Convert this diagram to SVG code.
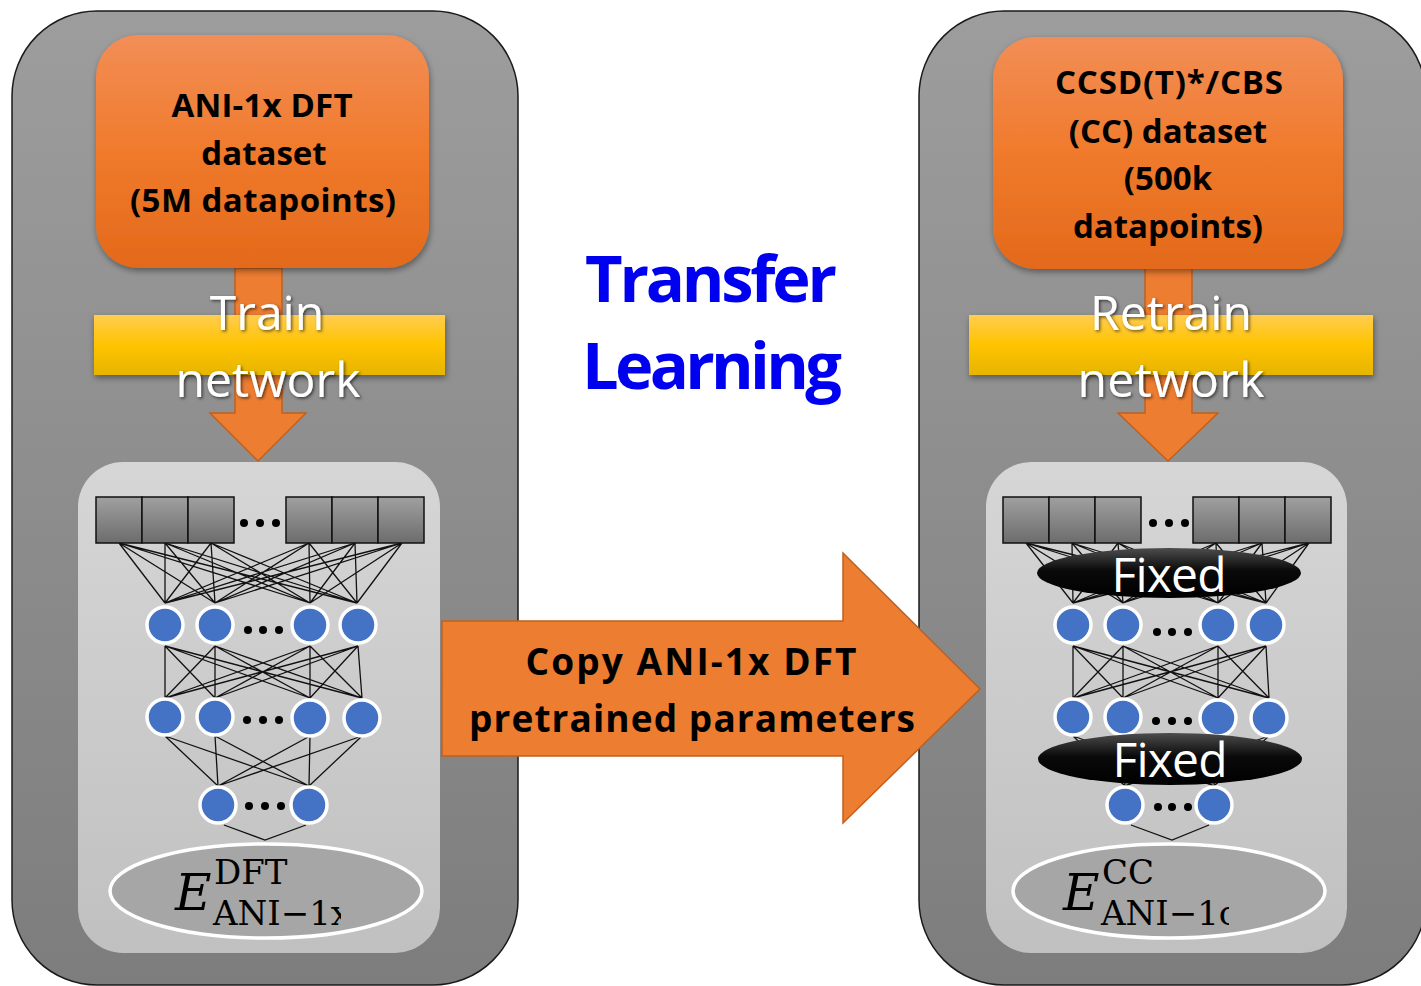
<svg xmlns="http://www.w3.org/2000/svg" width="1421" height="986" viewBox="0 0 1421 986">
<defs>
<linearGradient id="gOuter" x1="0" y1="0" x2="0" y2="1"><stop offset="0" stop-color="#9d9d9d"/><stop offset="1" stop-color="#7d7d7d"/></linearGradient>
<linearGradient id="gInner" x1="0" y1="0" x2="0" y2="1"><stop offset="0" stop-color="#d6d6d6"/><stop offset="1" stop-color="#c0c0c0"/></linearGradient>
<linearGradient id="gOrange" x1="0" y1="0" x2="0" y2="1"><stop offset="0" stop-color="#f28e56"/><stop offset="0.5" stop-color="#f07a2c"/><stop offset="1" stop-color="#e3691a"/></linearGradient>
<linearGradient id="gYellow" x1="0" y1="0" x2="0" y2="1"><stop offset="0" stop-color="#ffcd50"/><stop offset="0.5" stop-color="#ffc300"/><stop offset="1" stop-color="#e6b500"/></linearGradient>
<linearGradient id="gBox" x1="0" y1="0" x2="0" y2="1"><stop offset="0" stop-color="#a0a0a0"/><stop offset="1" stop-color="#6c6c6c"/></linearGradient>
<linearGradient id="gFixed" x1="0" y1="0" x2="0" y2="1"><stop offset="0" stop-color="#4d4d4d"/><stop offset="0.45" stop-color="#0a0a0a"/><stop offset="1" stop-color="#000"/></linearGradient>
<filter id="shadow" x="-10%" y="-10%" width="125%" height="130%"><feDropShadow dx="1" dy="3" stdDeviation="3" flood-color="#000" flood-opacity="0.4"/></filter>
<filter id="tshadow" x="-10%" y="-20%" width="130%" height="150%"><feDropShadow dx="1.5" dy="1.5" stdDeviation="1.5" flood-color="#000" flood-opacity="0.6"/></filter>
<clipPath id="clipL"><rect x="100" y="840" width="241" height="110"/></clipPath>
<clipPath id="clipR"><rect x="1000" y="840" width="229" height="110"/></clipPath>
</defs>
<style>
.outer{fill:url(#gOuter);stroke:#1a1a1a;stroke-width:1.5}
.inner{fill:url(#gInner)}
.obox{fill:url(#gOrange);filter:url(#shadow)}
.oarrow{fill:#ed7d31;stroke:#c0601e;stroke-width:1.5}
.ybar{fill:url(#gYellow);filter:url(#shadow)}
.ibox{fill:url(#gBox);stroke:#111;stroke-width:1.5}
.node{fill:#4472c4;stroke:#fff;stroke-width:3.5}
.dot{fill:#000}
.conn path{fill:none;stroke:#111;stroke-width:1.3}
.dtxt{font-family:"Open Sans","Liberation Sans",sans-serif;font-weight:bold;font-size:33px;fill:#000;text-anchor:middle}
.wtxt{font-family:"Open Sans","Liberation Sans",sans-serif;font-size:48px;fill:#fff;text-anchor:middle;filter:url(#tshadow)}
.title{font-family:"Open Sans","Liberation Sans",sans-serif;font-weight:bold;font-size:65px;fill:#0000f0;text-anchor:middle}
.atxt{font-family:"Open Sans","Liberation Sans",sans-serif;font-weight:bold;font-size:37px;fill:#000;text-anchor:middle}
.fixed{fill:url(#gFixed)}
.ftxt{font-family:"Open Sans","Liberation Sans",sans-serif;font-size:48px;fill:#fff;text-anchor:middle}
.oell{fill:#a6a6a6;stroke:#fff;stroke-width:3.5}
.math{font-family:"DejaVu Serif","Liberation Serif",serif;fill:#000}
</style>

<g id="panel-left">
<rect class="outer" x="12" y="11" width="506" height="974" rx="85"/>
<rect class="inner" x="78" y="462" width="362" height="491" rx="45"/>
</g>
<g id="panel-right">
<rect class="outer" x="919" y="11" width="507" height="974" rx="85"/>
<rect class="inner" x="986" y="462" width="361" height="491" rx="45"/>
</g>

<g id="title">
<text class="title" x="711" y="302" textLength="252">Transfer</text>
<text class="title" x="712" y="389" textLength="260">Learning</text>
</g>

<g id="copy-arrow">
<polygon class="oarrow" points="442,621 843,621 843,553 980,689 843,823 843,756 442,756"/>
<text class="atxt" x="691" y="675" textLength="331">Copy ANI-1x DFT</text>
<text class="atxt" x="692" y="732" textLength="446">pretrained parameters</text>
</g>

<g id="train-arrow-left">
<polygon class="oarrow" points="235,268 282,268 282,413 306,413 258,461 210,413 235,413"/>
</g>
<g id="train-arrow-right">
<polygon class="oarrow" points="1145,268 1192,268 1192,413 1218,413 1168,461 1118,413 1145,413"/>
</g>

<g id="dataset-left">
<rect class="obox" x="96" y="35" width="333" height="233" rx="42"/>
<text class="dtxt" x="262" y="117" textLength="181">ANI-1x DFT</text>
<text class="dtxt" x="264" y="165">dataset</text>
<text class="dtxt" x="263" y="212" textLength="266">(5M datapoints)</text>
</g>
<g id="dataset-right">
<rect class="obox" x="993" y="37" width="350" height="232" rx="42"/>
<text class="dtxt" x="1169" y="94" textLength="228">CCSD(T)*/CBS</text>
<text class="dtxt" x="1168" y="143">(CC) dataset</text>
<text class="dtxt" x="1168" y="190">(500k</text>
<text class="dtxt" x="1168" y="238">datapoints)</text>
</g>

<g id="train-left">
<rect class="ybar" x="94" y="315" width="351" height="60"/>
<text class="wtxt" x="267" y="330">Train</text>
<text class="wtxt" x="268" y="397" textLength="185">network</text>
</g>
<g id="train-right">
<rect class="ybar" x="969" y="315" width="404" height="60"/>
<text class="wtxt" x="1171" y="330" textLength="162">Retrain</text>
<text class="wtxt" x="1171" y="397" textLength="187">network</text>
</g>

<g id="connectors" class="conn">
<path d="M119 543L165 603M119 543L215 603M119 543L310 603M119 543L357 603M165 543L165 603M165 543L215 603M165 543L310 603M165 543L357 603M211 543L165 603M211 543L215 603M211 543L310 603M211 543L357 603M309 543L165 603M309 543L215 603M309 543L310 603M309 543L357 603M355 543L165 603M355 543L215 603M355 543L310 603M355 543L357 603M402 543L165 603M402 543L215 603M402 543L310 603M402 543L357 603"/>
<path d="M165 646L165 698M165 646L215 698M165 646L310 698M165 646L362 698M215 646L165 698M215 646L215 698M215 646L310 698M215 646L362 698M310 646L165 698M310 646L215 698M310 646L310 698M310 646L362 698M358 646L165 698M358 646L215 698M358 646L310 698M358 646L362 698"/>
<path d="M165 736L218 786M165 736L309 786M215 736L218 786M215 736L309 786M310 736L218 786M310 736L309 786M362 736L218 786M362 736L309 786"/>
<path d="M224 825L265 840L306 825"/>
<path d="M1026 543L1073 603M1026 543L1123 603M1026 543L1218 603M1026 543L1266 603M1072 543L1073 603M1072 543L1123 603M1072 543L1218 603M1072 543L1266 603M1118 543L1073 603M1118 543L1123 603M1118 543L1218 603M1118 543L1266 603M1216 543L1073 603M1216 543L1123 603M1216 543L1218 603M1216 543L1266 603M1262 543L1073 603M1262 543L1123 603M1262 543L1218 603M1262 543L1266 603M1309 543L1073 603M1309 543L1123 603M1309 543L1218 603M1309 543L1266 603"/>
<path d="M1073 646L1073 698M1073 646L1123 698M1073 646L1218 698M1073 646L1269 698M1123 646L1073 698M1123 646L1123 698M1123 646L1218 698M1123 646L1269 698M1218 646L1073 698M1218 646L1123 698M1218 646L1218 698M1218 646L1269 698M1266 646L1073 698M1266 646L1123 698M1266 646L1218 698M1266 646L1269 698"/>
<path d="M1073 736L1125 786M1073 736L1214 786M1123 736L1125 786M1123 736L1214 786M1218 736L1125 786M1218 736L1214 786M1269 736L1125 786M1269 736L1214 786"/>
<path d="M1131 825L1172 840L1209 825"/>
</g>

<g id="inputs-left">
<rect class="ibox" x="96" y="497" width="46" height="46"/>
<rect class="ibox" x="142" y="497" width="46" height="46"/>
<rect class="ibox" x="188" y="497" width="46" height="46"/>
<rect class="ibox" x="286" y="497" width="46" height="46"/>
<rect class="ibox" x="332" y="497" width="46" height="46"/>
<rect class="ibox" x="378" y="497" width="46" height="46"/>
<circle class="dot" cx="244" cy="523" r="4"/><circle class="dot" cx="260" cy="523" r="4"/><circle class="dot" cx="276" cy="523" r="4"/>
</g>
<g id="layer1-left">
<circle class="node" cx="165" cy="625" r="18"/><circle class="node" cx="215" cy="625" r="18"/><circle class="node" cx="310" cy="625" r="18"/><circle class="node" cx="358" cy="625" r="18"/>
<circle class="dot" cx="248" cy="630" r="4"/><circle class="dot" cx="263" cy="630" r="4"/><circle class="dot" cx="279" cy="630" r="4"/>
</g>
<g id="layer2-left">
<circle class="node" cx="165" cy="717" r="18"/><circle class="node" cx="215" cy="717" r="18"/><circle class="node" cx="310" cy="718" r="18"/><circle class="node" cx="362" cy="718" r="18"/>
<circle class="dot" cx="247" cy="720" r="4"/><circle class="dot" cx="263" cy="720" r="4"/><circle class="dot" cx="279" cy="720" r="4"/>
</g>
<g id="layer3-left">
<circle class="node" cx="218" cy="805" r="18"/><circle class="node" cx="309" cy="805" r="18"/>
<circle class="dot" cx="249" cy="806" r="4"/><circle class="dot" cx="265" cy="806" r="4"/><circle class="dot" cx="281" cy="806" r="4"/>
</g>
<g id="output-left">
<ellipse class="oell" cx="266" cy="891" rx="156" ry="47"/>
<g clip-path="url(#clipL)">
<text class="math" x="175" y="910" font-size="50" font-style="italic">E</text>
<text class="math" x="214" y="884" font-size="34">DFT</text>
<text class="math" x="213" y="925" font-size="34">ANI−1x</text>
</g>
</g>

<g id="inputs-right">
<rect class="ibox" x="1003" y="497" width="46" height="46"/>
<rect class="ibox" x="1049" y="497" width="46" height="46"/>
<rect class="ibox" x="1095" y="497" width="46" height="46"/>
<rect class="ibox" x="1193" y="497" width="46" height="46"/>
<rect class="ibox" x="1239" y="497" width="46" height="46"/>
<rect class="ibox" x="1285" y="497" width="46" height="46"/>
<circle class="dot" cx="1153" cy="523" r="4"/><circle class="dot" cx="1169" cy="523" r="4"/><circle class="dot" cx="1185" cy="523" r="4"/>
</g>
<g id="fixed-1">
<ellipse class="fixed" cx="1169" cy="573" rx="132" ry="25"/>
<text class="ftxt" x="1169" y="592" textLength="115">Fixed</text>
</g>
<g id="layer1-right">
<circle class="node" cx="1073" cy="625" r="18"/><circle class="node" cx="1123" cy="625" r="18"/><circle class="node" cx="1218" cy="625" r="18"/><circle class="node" cx="1266" cy="625" r="18"/>
<circle class="dot" cx="1157" cy="632" r="4"/><circle class="dot" cx="1172" cy="632" r="4"/><circle class="dot" cx="1188" cy="632" r="4"/>
</g>
<g id="layer2-right">
<circle class="node" cx="1073" cy="717" r="18"/><circle class="node" cx="1123" cy="717" r="18"/><circle class="node" cx="1218" cy="718" r="18"/><circle class="node" cx="1269" cy="718" r="18"/>
<circle class="dot" cx="1156" cy="721" r="4"/><circle class="dot" cx="1172" cy="721" r="4"/><circle class="dot" cx="1188" cy="721" r="4"/>
</g>
<g id="fixed-2">
<ellipse class="fixed" cx="1170" cy="759" rx="132" ry="26"/>
<text class="ftxt" x="1170" y="777" textLength="115">Fixed</text>
</g>
<g id="layer3-right">
<circle class="node" cx="1125" cy="805" r="18"/><circle class="node" cx="1214" cy="805" r="18"/>
<circle class="dot" cx="1158" cy="807" r="4"/><circle class="dot" cx="1172" cy="807" r="4"/><circle class="dot" cx="1188" cy="807" r="4"/>
</g>
<g id="output-right">
<ellipse class="oell" cx="1169" cy="891" rx="156" ry="47"/>
<g clip-path="url(#clipR)">
<text class="math" x="1063" y="910" font-size="50" font-style="italic">E</text>
<text class="math" x="1102" y="884" font-size="34">CC</text>
<text class="math" x="1101" y="925" font-size="34">ANI−1ccx</text>
</g>
</g>
</svg>
